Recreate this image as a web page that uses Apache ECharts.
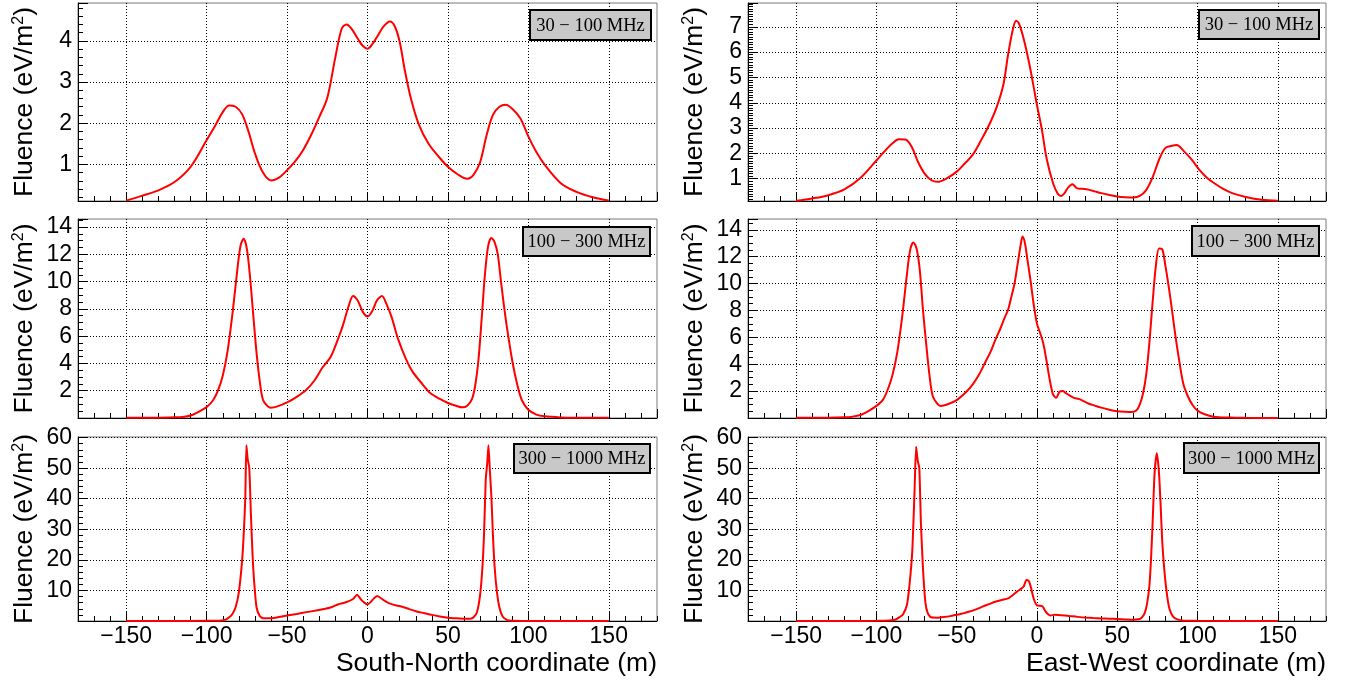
<!DOCTYPE html>
<html><head><meta charset="utf-8">
<script src="https://cdn.jsdelivr.net/npm/echarts@6/dist/echarts.min.js"></script>
<style>html,body{margin:0;padding:0;background:#fff}#c{width:1353px;height:683px}</style>
</head><body><div id="c"></div>
<script>
// ---- data (coordinate in m, fluence in eV/m^2) ----
const bandLabels = ['30 \u2212 100 MHz', '100 \u2212 300 MHz', '300 \u2212 1000 MHz'];
const axisTitles = ['South-North coordinate (m)', 'East-West coordinate (m)'];
const yTitle = 'Fluence (eV/m{sup|2})';

const sn30X = [-150,-140,-130,-120,-110,-100,-95,-90,-86,-82,-78,-74,-70,-65,-60,-55,-50,-45,-40,-35,-30,-25,-20,-16,-13,-10,-6,-3,0,3,6,10,14,17,20,23,27,32,38,44,50,56,62,66,70,74,78,82,86,90,95,100,105,110,120,130,140,150];
const sn30Y = [0.12,0.24,0.37,0.57,0.94,1.59,1.92,2.27,2.43,2.40,2.22,1.80,1.27,0.80,0.61,0.68,0.86,1.07,1.35,1.72,2.15,2.62,3.60,4.30,4.40,4.30,4.05,3.88,3.81,3.92,4.10,4.35,4.47,4.35,3.98,3.33,2.60,1.96,1.50,1.20,0.94,0.76,0.65,0.75,1.05,1.70,2.20,2.40,2.45,2.35,2.12,1.68,1.30,1.00,0.55,0.33,0.20,0.12];

const ew30X = [-150,-140,-130,-120,-110,-100,-95,-90,-86,-82,-78,-74,-70,-66,-62,-56,-50,-45,-40,-35,-30,-25,-21,-18,-15,-13,-11,-8,-5,-2,0,3,6,10,13,15,17,19,22,25,28,32,36,40,45,50,55,60,64,68,72,76,80,84,87,91,96,101,106,110,116,122,130,140,150];
const ew30Y = [0.13,0.22,0.35,0.58,1.03,1.72,2.08,2.40,2.56,2.55,2.25,1.65,1.20,0.95,0.88,1.02,1.28,1.60,1.95,2.50,3.10,3.85,4.70,5.90,6.90,7.24,7.10,6.45,5.60,4.60,3.90,2.95,1.80,0.82,0.40,0.32,0.42,0.62,0.78,0.62,0.60,0.57,0.50,0.43,0.36,0.30,0.27,0.26,0.32,0.55,1.05,1.75,2.22,2.30,2.33,2.12,1.78,1.36,1.03,0.84,0.60,0.42,0.28,0.17,0.13];

const sn100X = [-150,-130,-120,-115,-110,-105,-100,-96,-93,-90,-87,-84,-81,-79,-77,-75,-73,-71,-69,-67,-65,-62,-60,-56,-50,-44,-38,-33,-28,-23,-18,-15,-12,-9,-6,-3,0,3,6,9,12,15,19,24,28,34,39,45,50,55,59,62,65,67,69,71,73,75,77,79,81,83,85,87,90,93,96,100,105,110,120,130,150];
const sn100Y = [0.01,0.02,0.05,0.08,0.18,0.45,0.80,1.30,2.00,3.10,4.90,7.60,10.80,12.60,13.15,12.40,10.30,7.50,4.80,2.70,1.34,0.85,0.75,0.85,1.14,1.55,2.07,2.75,3.70,4.45,5.90,6.90,8.10,8.95,8.60,7.80,7.45,7.85,8.65,8.95,8.30,7.40,5.80,4.30,3.40,2.50,1.83,1.40,1.10,0.90,0.78,0.90,1.40,2.40,4.27,7.30,10.50,12.60,13.20,12.90,12.00,10.00,8.10,6.40,4.20,2.50,1.30,0.60,0.25,0.12,0.04,0.02,0.01];

const ew100X = [-150,-130,-120,-115,-110,-105,-100,-96,-93,-90,-87,-84,-81,-79,-77,-75,-73,-71,-69,-67,-65,-62,-60,-56,-50,-44,-40,-36,-32,-29,-26,-23,-20,-18,-16,-14,-12,-10,-9,-7.5,-6,-4,-2,0,2,4,6,8,10,12,14,16,18,20,23,26,29,32,36,40,45,50,55,59,62,64,66,68,70,72,74,76,78,80,82,84,86,88,91,94,97,100,104,110,120,130,150];
const ew100Y = [0.01,0.02,0.05,0.10,0.22,0.52,0.90,1.35,2.10,3.20,4.90,7.50,10.70,12.50,13.05,12.60,11.00,8.00,5.50,3.20,1.65,1.05,0.90,1.00,1.33,1.95,2.50,3.25,4.20,4.90,5.80,6.60,7.50,8.05,9.00,10.00,11.50,13.00,13.50,13.00,11.80,10.20,8.40,7.00,6.30,5.50,4.20,2.80,1.75,1.50,1.95,2.00,1.85,1.70,1.50,1.42,1.25,1.08,0.92,0.77,0.62,0.51,0.46,0.44,0.58,1.00,1.80,3.20,5.60,8.60,11.30,12.60,12.55,11.30,9.80,8.10,6.30,4.70,2.60,1.60,0.95,0.55,0.30,0.10,0.03,0.01,0.00];

const sn300X = [-150,-120,-100,-92,-88,-86,-84,-82,-80,-78,-77,-76,-75.3,-74.5,-73.5,-72.5,-71.5,-70.5,-69,-67,-65,-60,-55,-50,-44,-38,-32,-27,-23,-18,-13,-9,-6.5,-4,-2,0,2,4,6,8,11,14,18,22,26,30,35,40,45,50,55,60,64,66,68,70,71.5,72.5,73.5,74.5,75.2,76,77,78,79,80.5,82,84,87,90,100,150];
const sn300Y = [0.02,0.03,0.05,0.12,0.50,1.20,2.30,4.50,9.40,19.5,28.0,40.0,57.5,53.0,50.0,35.0,22.0,13.0,4.5,1.60,0.90,0.90,1.30,1.80,2.30,2.90,3.40,3.90,4.40,5.50,6.20,7.20,8.60,7.00,6.00,5.40,6.20,7.40,8.20,7.60,6.50,5.70,5.10,4.60,3.90,3.20,2.60,2.00,1.50,1.10,0.90,0.75,0.75,1.20,2.80,8.50,18.0,29.0,46.0,52.0,57.5,50.0,41.0,28.0,18.0,9.4,4.5,1.5,0.3,0.08,0.03,0.02];

const ew300X = [-150,-120,-100,-92,-88,-85.5,-83.5,-81,-79.4,-77.7,-76.3,-75.3,-74.3,-73.3,-72.3,-71,-69.5,-68,-66,-62,-58,-54,-50,-46,-42,-38,-34,-30,-26,-22,-18,-15,-12,-10,-8.3,-6.5,-5,-3.5,-2,0,2,3.5,5,6.5,8.5,11,15,20,25,30,35,40,45,50,55,60,63,65,67,68.5,70,71,72,73.2,74.6,75.4,76.1,77,78,79.5,81,82.5,84.5,87,90,100,150];
const ew300Y = [0.02,0.03,0.05,0.15,0.50,1.30,2.10,5.30,11.9,22.7,42.0,57.0,52.5,50.0,32.0,17.0,6.0,2.5,1.20,1.10,1.30,1.60,2.05,2.50,3.10,3.80,4.70,5.50,6.30,6.90,7.40,8.50,9.80,10.50,11.30,13.50,13.00,10.40,7.20,5.10,5.00,4.80,3.40,2.40,1.80,2.05,1.90,1.65,1.35,1.15,0.98,0.85,0.75,0.65,0.52,0.42,0.55,1.00,2.50,5.50,11.5,20.0,32.0,48.0,54.9,52.0,47.5,38.0,26.0,15.5,8.5,4.0,1.6,0.6,0.2,0.05,0.02];

// ---- layout / styling ----
const FONT = 'Liberation Sans';
const panels = [
  {x: sn30X,  y: sn30Y,  min: 0.11, max: 4.92,  step: 1,  minor: 5,  smooth: 0.35, band: 0, grid: {left: 78,  top: 3,   width: 579, height: 198}, box: [530, 10, 121, 30]},
  {x: ew30X,  y: ew30Y,  min: 0.12, max: 7.94,  step: 1,  minor: 10, smooth: 0.35, band: 0, grid: {left: 748, top: 3,   width: 578, height: 198}, box: [1199, 10, 120, 29]},
  {x: sn100X, y: sn100Y, min: 0,    max: 14.59, step: 2,  minor: 4,  smooth: 0.3,  band: 1, grid: {left: 78,  top: 219, width: 579, height: 199}, box: [523, 227, 127, 29]},
  {x: ew100X, y: ew100Y, min: 0,    max: 14.8,  step: 2,  minor: 4,  smooth: 0.3,  band: 1, grid: {left: 748, top: 219, width: 578, height: 199}, box: [1192, 226, 127, 30]},
  {x: sn300X, y: sn300Y, min: 0,    max: 60.2,  step: 10, minor: 5,  smooth: 0.2,  band: 2, grid: {left: 78,  top: 437, width: 579, height: 184}, box: [514, 444, 136, 29]},
  {x: ew300X, y: ew300Y, min: 0,    max: 60.2,  step: 10, minor: 5,  smooth: 0.2,  band: 2, grid: {left: 748, top: 437, width: 578, height: 184}, box: [1184, 443, 135, 30]}
];

const dotted = {type: [1, 2], color: '#000', width: 1};
const grid = [], xAxis = [], yAxis = [], series = [], graphic = [];

panels.forEach((p, i) => {
  grid.push(Object.assign({show: true, borderColor: '#7a7a7a', borderWidth: 1, backgroundColor: '#fff', containLabel: false}, p.grid));
  const bottomRow = i >= 4;
  xAxis.push({
    gridIndex: i, type: 'value', min: -180, max: 180, splitNumber: 7, minInterval: 50, maxInterval: 50,
    axisLine: {show: true, onZero: false, lineStyle: {color: '#000', width: 1}},
    axisTick: {show: true, inside: true, length: 9, lineStyle: {color: '#000'}},
    axisLabel: {show: bottomRow, showMinLabel: false, showMaxLabel: false, fontSize: 23, color: '#000', fontFamily: FONT, margin: 4,
      formatter: v => String(v).replace('-', '\u2212')},
    splitLine: {show: true, showMinLine: false, showMaxLine: false, lineStyle: dotted},
    name: bottomRow ? axisTitles[i - 4] : '', nameLocation: 'end', nameGap: 0,
    nameTextStyle: {align: 'right', verticalAlign: 'top', padding: [29, 0, 0, 0], fontSize: 26.5, color: '#000', fontFamily: FONT}
  });
  yAxis.push({
    gridIndex: i, type: 'value', min: p.min, max: p.max, splitNumber: 6, minInterval: p.step, maxInterval: p.step,
    axisLine: {show: true, onZero: false, lineStyle: {color: '#000', width: 1}},
    axisTick: {show: true, inside: true, length: 10, lineStyle: {color: '#000'}},
    minorTick: {show: true, splitNumber: p.minor, length: 5, lineStyle: {color: '#000'}},
    axisLabel: {showMinLabel: false, showMaxLabel: false, fontSize: 23, color: '#000', fontFamily: FONT, margin: 6},
    splitLine: {show: true, showMinLine: false, showMaxLine: false, lineStyle: dotted},
    name: yTitle, nameLocation: 'middle', nameRotate: 90, nameGap: 40,
    nameTextStyle: {fontSize: 26.5, color: '#000', fontFamily: FONT,
      rich: {sup: {fontSize: 16, color: '#000', fontFamily: FONT, verticalAlign: 'top', padding: [0, 0, 6, 0]}}}
  });
  series.push({
    type: 'line', xAxisIndex: i, yAxisIndex: i, showSymbol: false, symbol: 'none', smooth: p.smooth,
    lineStyle: {color: '#ff0000', width: 2}, animation: false, silent: true,
    data: p.x.map((xv, k) => [xv, p.y[k]])
  });
  const b = p.box;
  graphic.push({type: 'rect', shape: {x: b[0], y: b[1], width: b[2], height: b[3]},
    style: {fill: '#c8c8c8', stroke: '#000', lineWidth: 2}, z: 100});
  graphic.push({type: 'text', x: b[0] + b[2] / 2, y: b[1] + b[3] / 2 + 1,
    style: {text: bandLabels[p.band], fill: '#000', font: '18.5px "Liberation Serif"', textAlign: 'center', textVerticalAlign: 'middle'}, z: 101});
});
// minor x ticks every 10 m
panels.forEach((p, i) => {
  xAxis.push({
    gridIndex: i, type: 'value', min: -180, max: 180, interval: 10, position: 'bottom',
    axisLine: {show: false}, axisLabel: {show: false}, splitLine: {show: false},
    axisTick: {show: true, inside: true, length: 5, lineStyle: {color: '#000'}}
  });
});

const chart = echarts.init(document.getElementById('c'), null, {renderer: 'canvas'});
chart.setOption({animation: false, backgroundColor: '#fff', grid, xAxis, yAxis, series, graphic});
</script></body></html>
